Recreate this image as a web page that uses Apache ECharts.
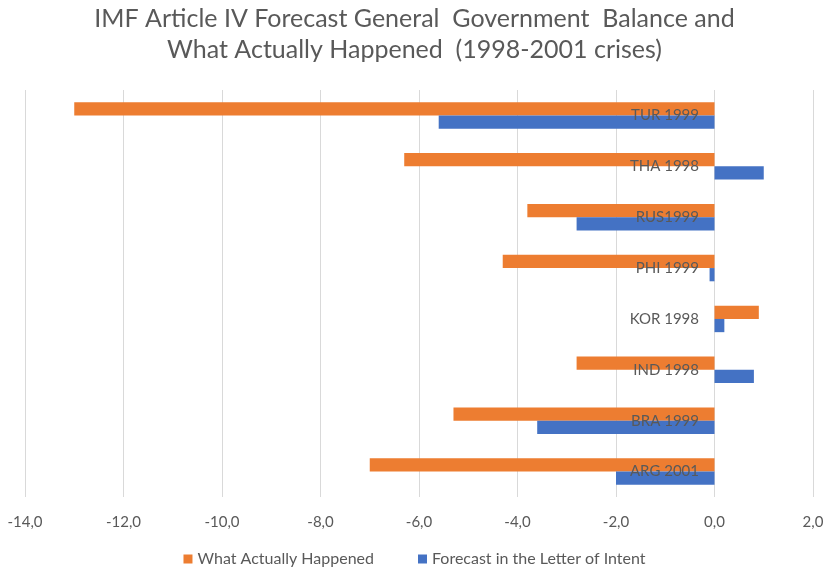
<!DOCTYPE html>
<html>
<head>
<meta charset="utf-8">
<script src="https://cdn.jsdelivr.net/npm/echarts@6/dist/echarts.min.js"></script>
<style>html,body{margin:0;padding:0;background:#fff;}#c{width:829px;height:572px;}</style>
</head>
<body>
<div id="c"></div>
<script>
const categories = ['TUR 1999', 'THA 1998', 'RUS1999', 'PHI 1999', 'KOR 1998', 'IND 1998', 'BRA 1999', 'ARG 2001'];
const actual = [-13.0, -6.3, -3.8, -4.3, 0.9, -2.8, -5.3, -7.0];
const forecast = [-5.6, 1.0, -2.8, -0.1, 0.2, 0.8, -3.6, -2.0];
const seriesNames = ['What Actually Happened', 'Forecast in the Letter of Intent'];
const titleText = 'IMF Article IV Forecast General  Government  Balance and\nWhat Actually Happened  (1998-2001 crises)';

const chart = echarts.init(document.getElementById('c'));
const txt = '#595959';
const gridLeft = 25, gridRight = 16, xMin = -14, xMax = 2;
const plotW = 829 - gridLeft - gridRight;
const zeroOffset = -Math.round(plotW * (0 - xMin) / (xMax - xMin));
chart.setOption({
  animation: false,
  textStyle: { fontFamily: 'Lato' },
  title: {
    text: titleText, left: 'center', top: -2,
    textStyle: { fontFamily: 'Lato', fontSize: 25, fontWeight: 'normal', color: txt, lineHeight: 31 }
  },
  legend: {
    data: seriesNames, bottom: 0, left: 'center', itemWidth: 9, itemHeight: 9, itemGap: 44,
    icon: 'rect',
    textStyle: { fontFamily: 'Lato', fontSize: 16, color: txt }
  },
  grid: { left: gridLeft, right: gridRight, top: 90, bottom: 75, containLabel: false, outerBoundsMode: 'none' },
  xAxis: {
    type: 'value', min: xMin, max: xMax, interval: 2,
    axisLine: { show: false }, axisTick: { show: false },
    axisLabel: { color: txt, fontSize: 15, margin: 18, formatter: v => v.toFixed(1).replace('.', ',') },
    splitLine: { lineStyle: { color: '#d9d9d9', width: 1 } }
  },
  yAxis: {
    type: 'category', data: categories, inverse: true, z: 10,
    position: 'left', offset: zeroOffset,
    axisLine: { show: false }, axisTick: { show: false },
    axisLabel: { color: txt, fontSize: 15, margin: 16 }
  },
  series: [
    { name: seriesNames[0], type: 'bar', data: actual, itemStyle: { color: '#ED7D31' }, barGap: '0%', barCategoryGap: '48%' },
    { name: seriesNames[1], type: 'bar', data: forecast, itemStyle: { color: '#4472C4' }, barGap: '0%', barCategoryGap: '48%' }
  ]
});
</script>
</body>
</html>
